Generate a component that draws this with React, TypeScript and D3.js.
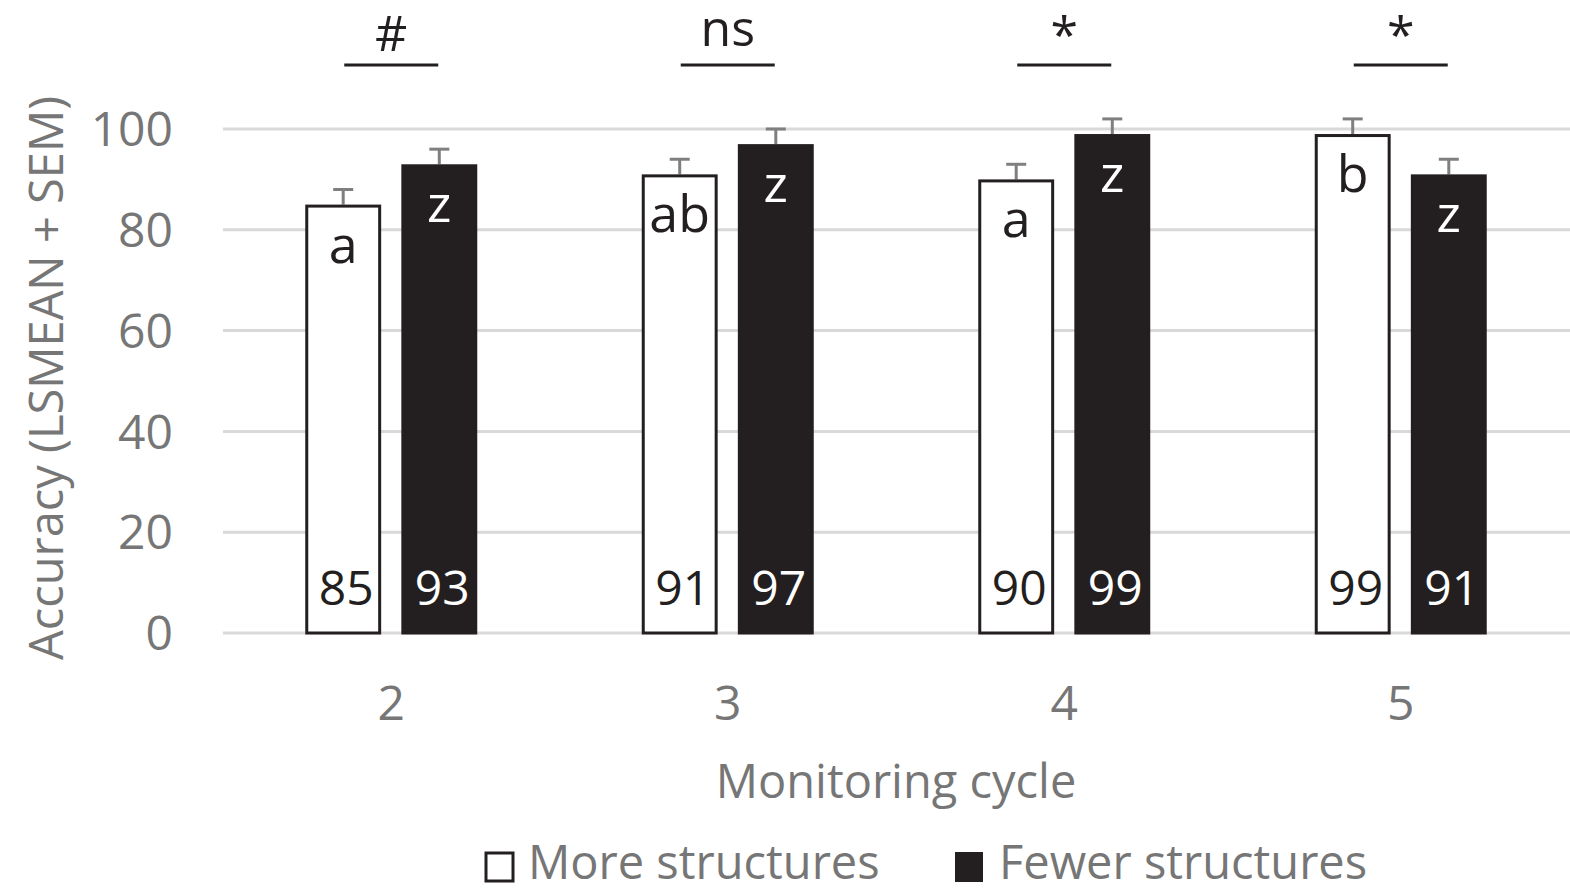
import React from 'react';
import * as d3 from 'd3';

const cycles = ['2', '3', '4', '5'];
const seriesNames = ['More structures', 'Fewer structures'];
const moreValues = [85, 91, 90, 99];
const fewerValues = [93, 97, 99, 91];
const moreSem = [3, 3, 3, 3];
const fewerSem = [3, 3, 3, 3];
const moreLetters = ['a', 'ab', 'a', 'b'];
const fewerLetters = ['z', 'z', 'z', 'z'];
const sigLabels = ['#', 'ns', '*', '*'];
const yTicks = [0, 20, 40, 60, 80, 100];

const W = 1570;
const H = 890;
const FONT = '"Open Sans", sans-serif';
const GRAY = '#767676';
const DARK = '#231f20';

const App = () => {
  const x0 = d3.scaleBand<string>().domain(cycles).range([223, 1569]).padding(0);
  const bw = x0.bandwidth();
  const x1 = d3
    .scaleBand<string>()
    .domain(seriesNames)
    .range([bw / 2 - 86, bw / 2 + 86])
    .paddingInner(0.21);
  const y = d3.scaleLinear().domain([0, 100]).range([633, 129]);

  const series = [
    { name: seriesNames[0], values: moreValues, sem: moreSem, letters: moreLetters, fill: '#ffffff', text: DARK },
    { name: seriesNames[1], values: fewerValues, sem: fewerSem, letters: fewerLetters, fill: DARK, text: '#ffffff' },
  ];

  return (
    <svg width={W} height={H} style={{ display: 'block', position: 'absolute', left: 0, top: 0 }} fontFamily={FONT}>
      <rect width={W} height={H} fill="#ffffff" />
      {/* grid */}
      {yTicks.map((t) => (
        <g key={t}>
          <line x1={223} x2={1570} y1={y(t)} y2={y(t)} stroke="#d9d9d9" strokeWidth={3} />
          <text x={173} y={y(t)} dy="0.36em" textAnchor="end" fontSize={48} fill={GRAY}>
            {t}
          </text>
        </g>
      ))}

      {/* bars */}
      {cycles.map((c, i) => (
        <g key={c} transform={`translate(${x0(c)},0)`}>
          {series.map((s) => {
            const bx = x1(s.name) as number;
            const w = x1.bandwidth();
            const v = s.values[i];
            const cx = bx + w / 2;
            return (
              <g key={s.name}>
                <line x1={cx} x2={cx} y1={y(v)} y2={y(v + s.sem[i])} stroke="#7f7f7f" strokeWidth={3} />
                <line x1={cx - 10} x2={cx + 10} y1={y(v + s.sem[i])} y2={y(v + s.sem[i])} stroke="#7f7f7f" strokeWidth={3} />
                <rect
                  x={bx + 1.5}
                  y={y(v) + 1.5}
                  width={w - 3}
                  height={y(0) - y(v) - 1.5}
                  fill={s.fill}
                  stroke={DARK}
                  strokeWidth={3}
                />
                <text x={cx} y={y(v) + 58} textAnchor="middle" fontSize={52} fill={s.text}>
                  {s.letters[i]}
                </text>
                <text x={cx + 3} y={y(0) - 28} textAnchor="middle" fontSize={48} fill={s.text}>
                  {v}
                </text>
              </g>
            );
          })}
          {/* significance */}
          <line x1={bw / 2 - 47} x2={bw / 2 + 47} y1={65} y2={65} stroke={DARK} strokeWidth={3} />
          <text x={bw / 2} y={sigLabels[i] === '*' ? 53 : sigLabels[i] === '#' ? 51 : 46} textAnchor="middle" fontSize={50} fill={DARK}>
            {sigLabels[i]}
          </text>
          <text x={bw / 2} y={720} textAnchor="middle" fontSize={48} fill={GRAY}>
            {c}
          </text>
        </g>
      ))}

      {/* axis titles */}
      <text x={896} y={798} textAnchor="middle" fontSize={47} fill={GRAY}>
        Monitoring cycle
      </text>
      <text transform="translate(63,378) rotate(-90)" textAnchor="middle" fontSize={47} fill={GRAY}>
        Accuracy (LSMEAN + SEM)
      </text>

      {/* legend */}
      <rect x={486} y={853} width={27} height={28} fill="#ffffff" stroke={DARK} strokeWidth={3} />
      <text x={528} y={879} fontSize={47} fill={GRAY}>
        {seriesNames[0]}
      </text>
      <rect x={955} y={852} width={28} height={30} fill={DARK} />
      <text x={999} y={879} fontSize={47} fill={GRAY}>
        {seriesNames[1]}
      </text>
    </svg>
  );
};

export default App;
